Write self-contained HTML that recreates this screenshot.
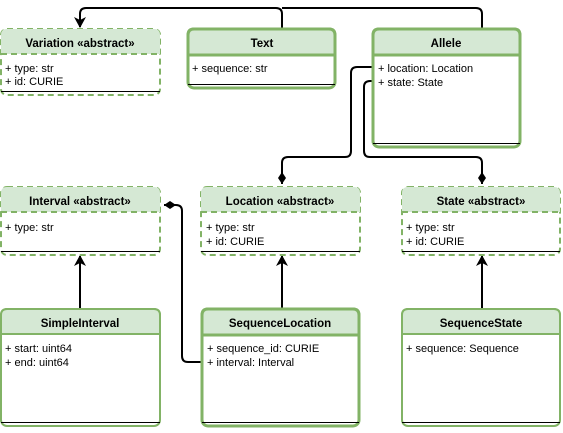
<!DOCTYPE html>
<html><head><style>
body{margin:0;background:#fff;width:563px;height:428px;overflow:hidden}
svg text{font-family:"Liberation Sans",Arial,sans-serif;font-size:11px;fill:#000}
.h{font-weight:bold;text-anchor:middle;font-size:11.5px}
</style></head><body>
<svg width="563" height="428" xmlns="http://www.w3.org/2000/svg">
<defs>
<marker id="ar" markerWidth="12" markerHeight="12" refX="10" refY="6" orient="auto" markerUnits="userSpaceOnUse"><path d="M0,0 L11,6 L0,12 L3,6 Z" fill="#000"/></marker>
<marker id="dm" markerWidth="14" markerHeight="10" refX="12" refY="5" orient="auto" markerUnits="userSpaceOnUse"><path d="M0,5 L6,1 L12,5 L6,9 Z" fill="#000"/></marker>
</defs>
<g fill="none" stroke="#000" stroke-width="2">
<path d="M282,28 V14 Q282,8 276,8 H86 Q80,8 80,14 V27" marker-end="url(#ar)"/>
<path d="M482,28 V14 Q482,8 476,8 H282"/>
<path d="M402,67 H357 Q351,67 351,73 V151 Q351,157 345,157 H288 Q282,157 282,163 V184" marker-end="url(#dm)"/>
<path d="M402,81 H370 Q364,81 364,87 V151 Q364,157 370,157 H476 Q482,157 482,163 V184" marker-end="url(#dm)"/>
<path d="M201,362 H188 Q182,362 182,356 V211 Q182,205 176,205 H164" marker-end="url(#dm)"/>
<path d="M80,308 V256" marker-end="url(#ar)"/>
<path d="M282,308 V256" marker-end="url(#ar)"/>
<path d="M482,308 V256" marker-end="url(#ar)"/>
</g>
<g stroke="#82b366">
<rect x="1" y="29" width="159" height="66" rx="6" fill="#fff" stroke-width="2" stroke-dasharray="6,4"/>
<path d="M7,29 H154 Q160,29 160,35 V54 H1 V35 Q1,29 7,29Z" fill="#d5e8d4" stroke="none"/>
<path d="M1,54 H160" stroke-width="2" stroke-dasharray="6,4"/>
<rect x="1" y="187" width="159" height="68" rx="6" fill="#fff" stroke-width="2" stroke-dasharray="6,4"/>
<path d="M7,187 H154 Q160,187 160,193 V212 H1 V193 Q1,187 7,187Z" fill="#d5e8d4" stroke="none"/>
<path d="M1,212 H160" stroke-width="2" stroke-dasharray="6,4"/>
<rect x="201" y="187" width="159" height="68" rx="6" fill="#fff" stroke-width="2" stroke-dasharray="6,4"/>
<path d="M207,187 H354 Q360,187 360,193 V212 H201 V193 Q201,187 207,187Z" fill="#d5e8d4" stroke="none"/>
<path d="M201,212 H360" stroke-width="2" stroke-dasharray="6,4"/>
<rect x="402" y="187" width="158" height="68" rx="6" fill="#fff" stroke-width="2" stroke-dasharray="6,4"/>
<path d="M408,187 H554 Q560,187 560,193 V212 H402 V193 Q402,187 408,187Z" fill="#d5e8d4" stroke="none"/>
<path d="M402,212 H560" stroke-width="2" stroke-dasharray="6,4"/>
<rect x="188" y="29" width="147" height="59" rx="6" fill="#fff" stroke-width="3"/>
<path d="M194,29 H329 Q335,29 335,35 V55 H188 V35 Q188,29 194,29Z" fill="#d5e8d4" stroke-width="3"/>
<rect x="373" y="29" width="147" height="118" rx="6" fill="#fff" stroke-width="3"/>
<path d="M379,29 H514 Q520,29 520,35 V55 H373 V35 Q373,29 379,29Z" fill="#d5e8d4" stroke-width="3"/>
<rect x="1" y="309" width="159" height="117" rx="6" fill="#fff" stroke-width="2"/>
<path d="M7,309 H154 Q160,309 160,315 V334 H1 V315 Q1,309 7,309Z" fill="#d5e8d4" stroke-width="2"/>
<rect x="202" y="309" width="157" height="117" rx="6" fill="#fff" stroke-width="3"/>
<path d="M208,309 H353 Q359,309 359,315 V335 H202 V315 Q202,309 208,309Z" fill="#d5e8d4" stroke-width="3"/>
<rect x="402" y="309" width="158" height="117" rx="6" fill="#fff" stroke-width="2"/>
<path d="M408,309 H554 Q560,309 560,315 V334 H402 V315 Q402,309 408,309Z" fill="#d5e8d4" stroke-width="2"/>
</g>
<g stroke="#000" stroke-width="1">
<path d="M1,91.5 H160"/><path d="M188,84.5 H335"/><path d="M373,143.5 H520"/>
<path d="M1,251.5 H160"/><path d="M201,251.5 H360"/><path d="M402,251.5 H560"/>
<path d="M1,422.5 H160"/><path d="M202,422.5 H359"/><path d="M402,422.5 H560"/>
</g>
<text class="h" x="80" y="47">Variation «abstract»</text>
<text x="5" y="72">+ type: str</text><text x="5" y="85">+ id: CURIE</text>
<text class="h" x="262" y="47">Text</text>
<text x="192" y="72">+ sequence: str</text>
<text class="h" x="446" y="47">Allele</text>
<text x="378" y="72">+ location: Location</text><text x="378" y="86">+ state: State</text>
<text class="h" x="80" y="205">Interval «abstract»</text>
<text x="5" y="231">+ type: str</text>
<text class="h" x="280" y="205">Location «abstract»</text>
<text x="206" y="231">+ type: str</text><text x="206" y="245">+ id: CURIE</text>
<text class="h" x="481" y="205">State «abstract»</text>
<text x="406" y="231">+ type: str</text><text x="406" y="245">+ id: CURIE</text>
<text class="h" x="80" y="327">SimpleInterval</text>
<text x="5" y="352">+ start: uint64</text><text x="5" y="366">+ end: uint64</text>
<text class="h" x="280" y="327">SequenceLocation</text>
<text x="207" y="352">+ sequence_id: CURIE</text><text x="207" y="366">+ interval: Interval</text>
<text class="h" x="481" y="327">SequenceState</text>
<text x="406" y="352">+ sequence: Sequence</text>
</svg>
</body></html>
